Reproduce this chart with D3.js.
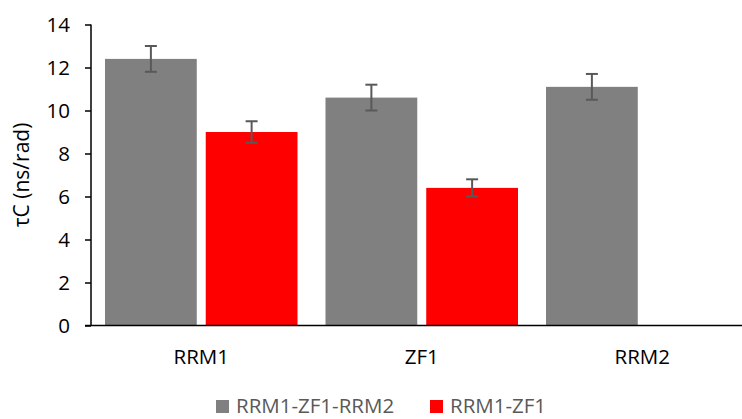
<!DOCTYPE html>
<html>
<head>
<meta charset="utf-8">
<script src="https://cdn.jsdelivr.net/npm/d3@7"></script>
<style>
  body { margin: 0; background: #fff; }
  svg { display: block; font-family: "Open Sans", sans-serif; }
</style>
</head>
<body>
<div id="chart"></div>
<script>
var categories = ["RRM1", "ZF1", "RRM2"];
var series = ["RRM1-ZF1-RRM2", "RRM1-ZF1"];
var fullValues = [12.4, 10.6, 11.1];
var fullErrors = [0.6, 0.6, 0.6];
var zfValues = [9.0, 6.4, null];
var zfErrors = [0.5, 0.4, null];
var yTicks = [0, 2, 4, 6, 8, 10, 12, 14];
var colors = ["#808080", "#ff0000"];

var width = 742, height = 419;

var svg = d3.select("#chart").append("svg")
  .attr("width", width)
  .attr("height", height);

var x0 = d3.scaleBand()
  .domain(categories)
  .range([91, 752.5]);

var x1 = d3.scaleBand()
  .domain(series)
  .range([14, x0.step() - 14])
  .paddingInner(0.089);

var y = d3.scaleLinear()
  .domain([0, 14])
  .range([325.5, 24.5]);

// flatten into rows for drawing
var rows = [];
categories.forEach(function (c, i) {
  rows.push({cat: c, s: series[0], v: fullValues[i], e: fullErrors[i], color: colors[0]});
  if (zfValues[i] != null) {
    rows.push({cat: c, s: series[1], v: zfValues[i], e: zfErrors[i], color: colors[1]});
  }
});

var g = svg.append("g");

g.selectAll(".bar")
  .data(rows)
  .enter().append("rect")
  .attr("class", "bar")
  .attr("x", d => x0(d.cat) + x1(d.s))
  .attr("width", x1.bandwidth())
  .attr("y", d => y(d.v))
  .attr("height", d => y(0) - y(d.v))
  .style("fill", d => d.color);

// error bars
var eb = g.selectAll(".err")
  .data(rows)
  .enter().append("g")
  .attr("class", "err")
  .attr("stroke", "#595959")
  .attr("stroke-width", 2);

var cx = d => x0(d.cat) + x1(d.s) + x1.bandwidth() / 2;
eb.append("line")
  .attr("x1", cx).attr("x2", cx)
  .attr("y1", d => y(d.v + d.e)).attr("y2", d => y(d.v - d.e));
eb.append("line")
  .attr("x1", d => cx(d) - 6).attr("x2", d => cx(d) + 6)
  .attr("y1", d => y(d.v + d.e)).attr("y2", d => y(d.v + d.e));
eb.append("line")
  .attr("x1", d => cx(d) - 6).attr("x2", d => cx(d) + 6)
  .attr("y1", d => y(d.v - d.e)).attr("y2", d => y(d.v - d.e));

// y axis
var yAxis = svg.append("g")
  .attr("transform", "translate(91,0)")
  .call(d3.axisLeft(y).tickValues(yTicks).tickSize(6).tickPadding(15));
yAxis.select(".domain").attr("stroke", "#000").attr("stroke-width", 1.5)
  .attr("d", "M0," + y(14) + "V" + y(0));
yAxis.selectAll(".tick line").attr("stroke", "#000").attr("stroke-width", 1.5);
yAxis.selectAll(".tick text")
  .attr("fill", "#000")
  .style("font-size", "20.5px")
  .style("font-family", "'Open Sans', sans-serif");

// x axis baseline
svg.append("line")
  .attr("x1", 85).attr("x2", width)
  .attr("y1", y(0)).attr("y2", y(0))
  .attr("stroke", "#000").attr("stroke-width", 1.5);

// category labels
svg.selectAll(".cat")
  .data(categories)
  .enter().append("text")
  .attr("class", "cat")
  .attr("x", d => x0(d) + x0.step() / 2)
  .attr("y", 364)
  .attr("text-anchor", "middle")
  .style("font-size", "20.5px")
  .text(d => d);

// y label
svg.append("text")
  .attr("transform", "translate(29," + ((y(0) + y(14)) / 2) + ") rotate(-90)")
  .attr("text-anchor", "middle")
  .style("font-size", "21px")
  .text("\u03c4C (ns/rad)");

// legend
var legendX = [216, 430];
var leg = svg.selectAll(".legend")
  .data(series)
  .enter().append("g")
  .attr("class", "legend")
  .attr("transform", (d, i) => "translate(" + legendX[i] + ",400)");
leg.append("rect")
  .attr("width", 13).attr("height", 13)
  .style("fill", (d, i) => colors[i]);
leg.append("text")
  .attr("x", 20).attr("y", 12.5)
  .attr("fill", "#595959")
  .style("font-size", "20.5px")
  .text(d => d);
</script>
</body>
</html>
